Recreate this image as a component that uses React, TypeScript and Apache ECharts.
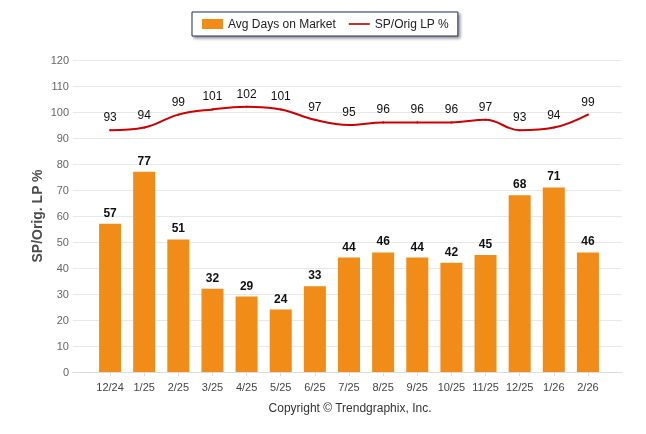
import React, { useEffect, useRef } from "react";
import * as echarts from "echarts";

const categories = ["12/24", "1/25", "2/25", "3/25", "4/25", "5/25", "6/25", "7/25", "8/25", "9/25", "10/25", "11/25", "12/25", "1/26", "2/26"];
const avgDays = [57, 77, 51, 32, 29, 24, 33, 44, 46, 44, 42, 45, 68, 71, 46];
const spOrig = [93, 94, 99, 101, 102, 101, 97, 95, 96, 96, 96, 97, 93, 94, 99];
const FONT = "Liberation Sans, Arial, sans-serif";

export default function App() {
  const ref = useRef<HTMLDivElement>(null);
  useEffect(() => {
    if (!ref.current) return;
    const chart = echarts.init(ref.current, undefined, { renderer: "svg" });
    chart.setOption({
      animation: false,
      textStyle: { fontFamily: FONT },
      legend: {
        top: 12,
        left: 192,
        itemWidth: 21,
        itemHeight: 10,
        itemGap: 13,
        padding: [6, 9, 6, 10],
        borderColor: "#1f2f5f",
        borderWidth: 1,
        backgroundColor: "#fff",
        shadowColor: "rgba(0,0,0,0.45)",
        shadowBlur: 3,
        shadowOffsetX: 2,
        shadowOffsetY: 2,
        textStyle: { fontSize: 12, color: "#222", fontFamily: FONT },
        data: [
          { name: "Avg Days on Market", icon: "rect" },
          { name: "SP/Orig LP %", icon: "path://M0,4.2 L20,4.2 L20,5.8 L0,5.8 Z" },
        ],
      },
      grid: [
        { left: 73, right: 24, top: 60, bottom: 62 },
        { left: 93, right: 41, top: 60, bottom: 62 },
      ],
      xAxis: [
        {
          gridIndex: 0,
          type: "value",
          min: 0,
          max: 1,
          axisLine: { show: true, lineStyle: { color: "#dcdcdc" } },
          axisTick: { show: false },
          axisLabel: { show: false },
          splitLine: { show: false },
        },
        {
          gridIndex: 1,
          type: "category",
          data: categories,
          axisLine: { show: false },
          axisTick: { show: true, alignWithLabel: true, interval: 0, length: 4, lineStyle: { color: "#dcdcdc" } },
          axisLabel: { color: "#444", fontSize: 11, margin: 9, interval: 0, fontFamily: FONT },
        },
      ],
      yAxis: [
        {
          gridIndex: 0,
          type: "value",
          min: 0,
          max: 120,
          interval: 10,
          name: "SP/Orig. LP %",
          nameLocation: "middle",
          nameGap: 29,
          nameMoveOverlap: false,
          nameTextStyle: { fontSize: 14, fontWeight: "bold", color: "#4d4d4d", fontFamily: FONT },
          axisLine: { show: false },
          axisTick: { show: false },
          axisLabel: { color: "#666", fontSize: 11, margin: 4, fontFamily: FONT },
          splitLine: { lineStyle: { color: "#e8e8e8" } },
        },
        {
          gridIndex: 1,
          type: "value",
          min: 0,
          max: 120,
          interval: 10,
          show: false,
          splitLine: { show: false },
        },
      ],
      series: [
        {
          name: "Avg Days on Market",
          type: "bar",
          xAxisIndex: 1,
          yAxisIndex: 1,
          data: avgDays,
          barWidth: 22,
          itemStyle: { color: "#f08c17" },
          label: { show: true, position: "top", distance: 5, color: "#111", fontSize: 12, fontWeight: "bold", fontFamily: FONT },
        },
        {
          name: "SP/Orig LP %",
          type: "line",
          xAxisIndex: 1,
          yAxisIndex: 1,
          data: spOrig,
          smooth: 0.4,
          symbol: "circle",
          symbolSize: 2,
          itemStyle: { color: "#cc0000" },
          lineStyle: { color: "#cc0000", width: 2 },
          label: { show: true, position: "top", distance: 6, color: "#111", fontSize: 12, fontFamily: FONT },
        },
      ],
      graphic: [
        {
          type: "text",
          x: 350,
          y: 408,
          style: {
            text: "Copyright © Trendgraphix, Inc.",
            fill: "#333",
            fontSize: 12,
            fontFamily: FONT,
            textAlign: "center",
            textVerticalAlign: "middle",
          },
        },
      ],
    });
    return () => chart.dispose();
  }, []);
  return <div ref={ref} style={{ position: "fixed", left: 0, top: 0, width: 646, height: 434 }} />;
}
